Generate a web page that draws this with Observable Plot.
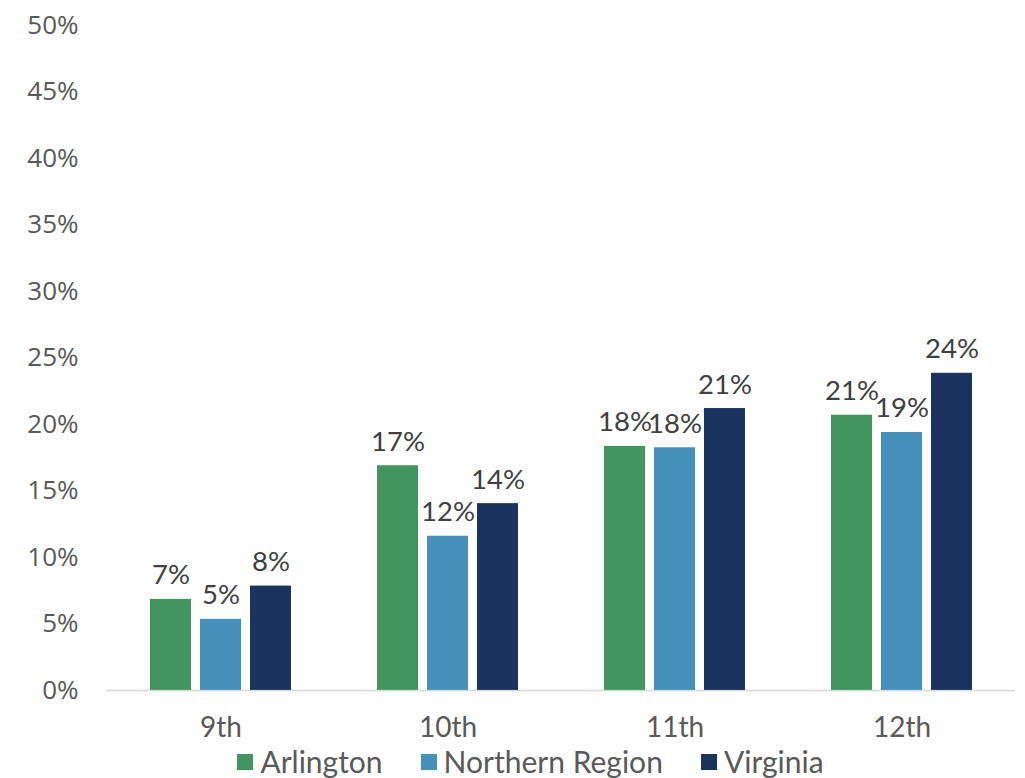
<!DOCTYPE html>
<html>
<head>
<meta charset="utf-8">
<script src="https://cdn.jsdelivr.net/npm/d3@7"></script>
<script src="https://cdn.jsdelivr.net/npm/@observablehq/plot@0.6"></script>
<style>
  html, body { margin: 0; padding: 0; background: #fff; }
  #chart { width: 1025px; }
  .legend { display: flex; justify-content: center; gap: 38px; font-family: Lato, "Open Sans", sans-serif; font-size: 30px; line-height: 34px; color: #595959; margin-top: 2px; padding-left: 36px; }
  .legend span.item { display: inline-flex; align-items: center; }
  .legend span.sw { display: inline-block; width: 16px; height: 16px; margin-right: 7px; margin-top: 2px; }
</style>
</head>
<body>
<div id="chart"></div>
<script>
const grades = ["9th", "10th", "11th", "12th"];
const series = ["Arlington", "Northern Region", "Virginia"];
const colors = ["#42955f", "#4690bc", "#1b335f"];
const arlington = [6.85, 16.9, 18.35, 20.7];
const northern = [5.35, 11.6, 18.25, 19.4];
const virginia = [7.85, 14.05, 21.2, 23.85];
const yTicks = [0, 5, 10, 15, 20, 25, 30, 35, 40, 45, 50];

const valuesBySeries = [arlington, northern, virginia];
const data = [];
series.forEach((s, si) => grades.forEach((g, gi) => data.push({grade: g, series: s, value: valuesBySeries[si][gi]})));

const step = 50; // bar spacing inside a group
const marks = [];
series.forEach((s, si) => {
  const rows = data.filter(d => d.series === s);
  const off = (si - 1) * step;
  marks.push(Plot.barY(rows, {x: "grade", y: "value", fill: colors[si], dx: off}));
  marks.push(Plot.text(rows, {x: "grade", y: "value", text: d => Math.round(d.value) + "%", dx: off, dy: -15, lineAnchor: "bottom", fill: "#404040", fontSize: 27.5, fontFamily: "Lato, sans-serif"}));
});

const plot = Plot.plot({
  width: 1025,
  height: 742,
  marginLeft: 106,
  marginRight: 10,
  marginTop: 25,
  marginBottom: 52,
  x: {domain: grades, paddingInner: 0.82, paddingOuter: 0.41, label: null, tickSize: 0, tickPadding: 27},
  y: {domain: [0, 50], ticks: yTicks, tickFormat: d => d + "%", label: null, tickSize: 0, tickPadding: 28},
  style: {fontFamily: "Lato, sans-serif", color: "#595959", background: "#fff"},
  marks: [
    Plot.ruleY([0], {stroke: "#d9d9d9", strokeWidth: 1.5}),
    ...marks,
    Plot.ruleY([0], {stroke: "#d9d9d9", strokeWidth: 1.5, strokeOpacity: 0.4})
  ]
});

d3.select(plot).selectAll("g[aria-label='y-axis tick label'] text, g[aria-label='y-axis tick label']")
  .attr("font-size", 26).attr("font-family", "'Open Sans', sans-serif");
d3.select(plot).selectAll("g[aria-label='x-axis tick label'], g[aria-label='x-axis tick label'] text")
  .attr("font-size", 28).attr("font-family", "Lato, sans-serif");

document.getElementById("chart").appendChild(plot);

const legend = document.createElement("div");
legend.className = "legend";
series.forEach((s, i) => {
  const item = document.createElement("span");
  item.className = "item";
  const sw = document.createElement("span");
  sw.className = "sw";
  sw.style.background = colors[i];
  item.appendChild(sw);
  item.appendChild(document.createTextNode(s));
  legend.appendChild(item);
});
document.getElementById("chart").appendChild(legend);
</script>
</body>
</html>
